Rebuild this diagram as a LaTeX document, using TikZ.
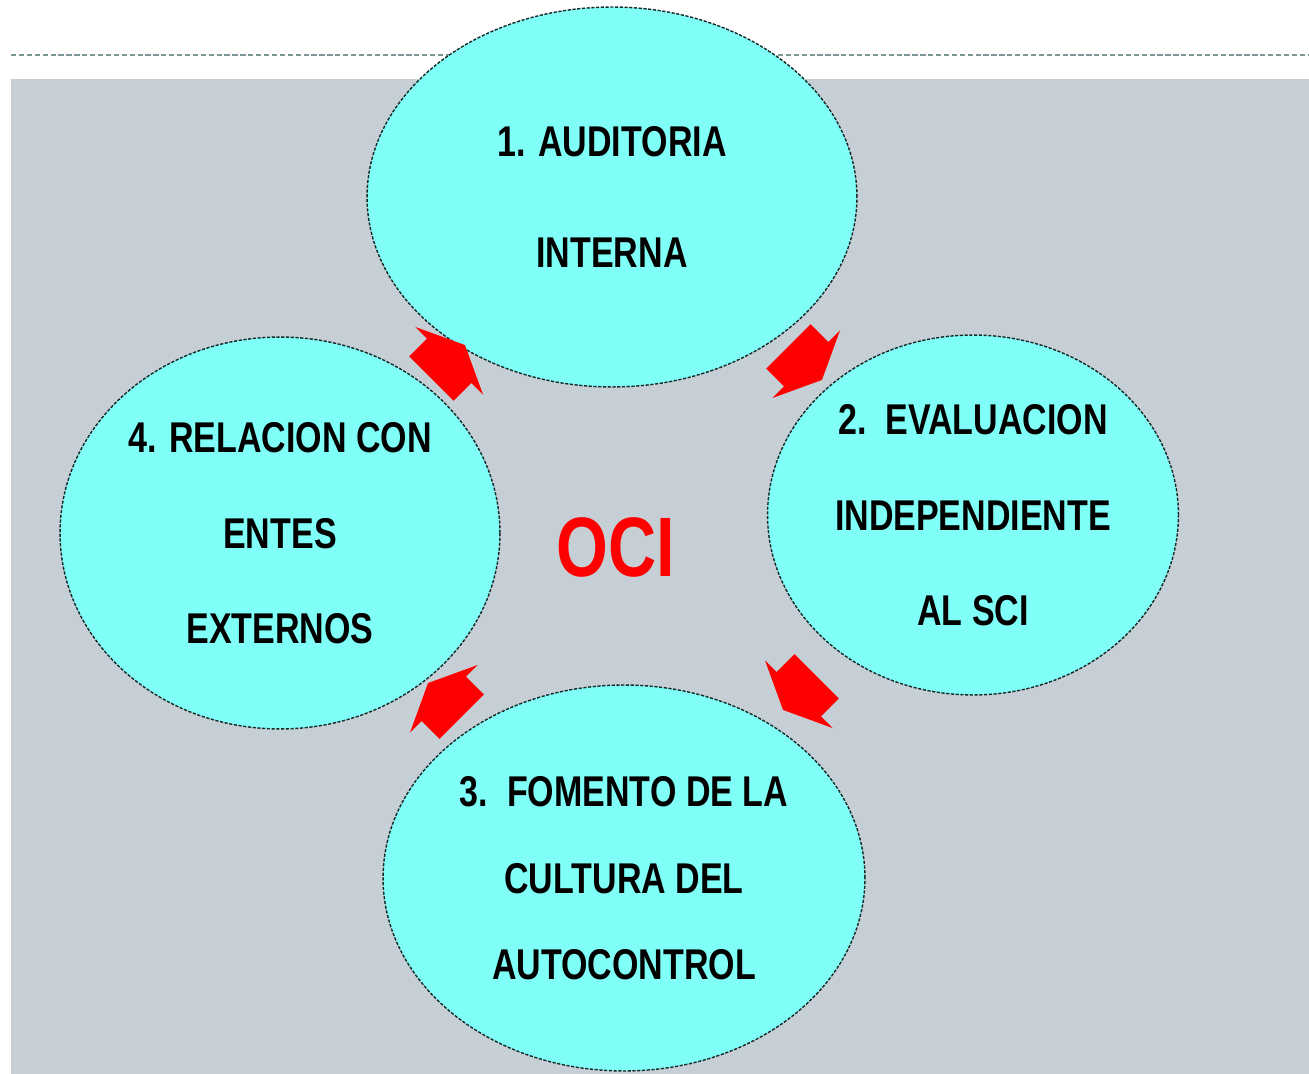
\documentclass[tikz,border=0pt]{standalone}
\usepackage{fontspec}
\setmainfont{Liberation Sans}[FakeStretch=0.79]
\usetikzlibrary{shapes.geometric,shapes.arrows}
\definecolor{celeste}{RGB}{128,255,249}
\definecolor{fondo}{RGB}{197,207,213}
\definecolor{borde}{RGB}{25,40,40}
\definecolor{raya}{RGB}{122,150,150}
\begin{document}
\begin{tikzpicture}[x=0.02cm, y=-0.02cm,
  etapa/.style={draw=borde, ellipse, fill=celeste, line width=0.8pt, dash pattern=on 1.8pt off 0.9pt, align=center, inner sep=0pt, text depth=-0.24cm},
  flecha/.style={single arrow, fill=red, draw=none, text height=0.62cm, text depth=0.62cm, inner sep=0pt, minimum height=0.95cm, minimum width=1.9cm, single arrow head extend=0.33cm, single arrow tip angle=130}]
\useasboundingbox (0,0) rectangle (1309,1074);
\coordinate (rayaL) at (11,55);
\coordinate (rayaR) at (1309,55);
\draw[raya, line width=1.1pt, dash pattern=on 3pt off 1.5pt] (rayaL) -- (rayaR);
\fill[fondo] (11,79) rectangle (1309,1074);
% etapas del ciclo
\node[etapa, minimum width=9.8cm, minimum height=7.6cm, font=\fontsize{24.5}{63.7}\selectfont\bfseries] (aud) at (612,197) {1. AUDITORIA\\INTERNA};
\node[etapa, minimum width=8.22cm, minimum height=7.2cm, font=\fontsize{24.5}{54.6}\selectfont\bfseries] (eval) at (973,515) {2.\ \ EVALUACION\\INDEPENDIENTE\\AL SCI};
\node[etapa, minimum width=9.64cm, minimum height=7.72cm, font=\fontsize{24.5}{49.2}\selectfont\bfseries] (fom) at (624,878) {3.\ \ FOMENTO DE LA\\CULTURA DEL\\AUTOCONTROL};
\node[etapa, minimum width=8.8cm, minimum height=7.84cm, font=\fontsize{24.5}{54.3}\selectfont\bfseries] (rel) at (280,533) {4. RELACION CON\\ENTES\\EXTERNOS};
% centro
\node[text=red, font=\fontsize{48}{48}\selectfont\bfseries] (oci) at (616,547) {OCI};
% flechas
\node[flecha, rotate=-45] (f12) at (800,358) {};
\node[flecha, rotate=-135] (f23) at (805,688) {};
\node[flecha, rotate=135] (f34) at (450,705) {};
\node[flecha, rotate=45] (f41) at (443,367) {};
\end{tikzpicture}
\end{document}
